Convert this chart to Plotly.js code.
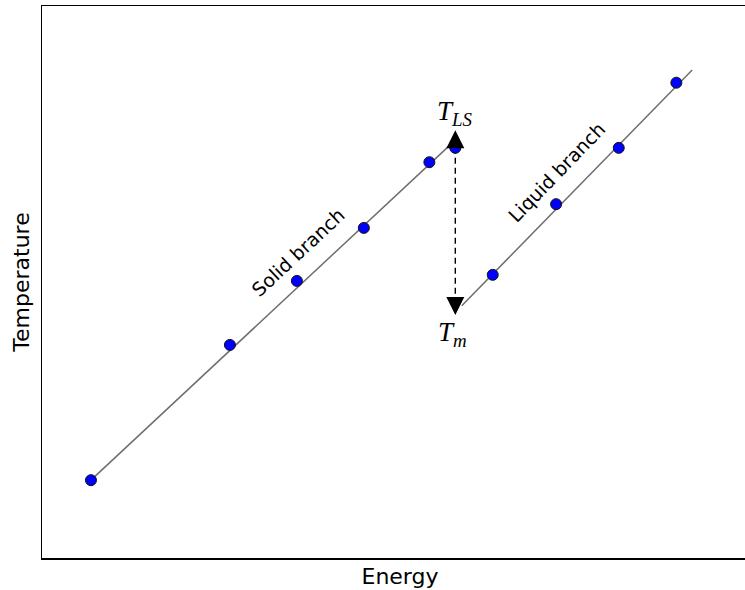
<!DOCTYPE html>
<html>
<head>
<meta charset="utf-8">
<script src="https://cdn.plot.ly/plotly-3.0.1.min.js"></script>
<style>html,body{margin:0;padding:0;overflow:hidden;background:#fff;width:745px;height:590px}</style>
</head>
<body>
<div id="chart" style="width:758px;height:590px"></div>
<script>
// Solid branch
const solidEnergy = [0.68, 2.61, 3.54, 4.47, 5.38, 5.74];
const solidTemp   = [1.41, 3.86, 5.02, 5.98, 7.17, 7.43];
const solidFitE   = [0.68, 5.74];
const solidFitT   = [1.41, 7.57];
// Liquid branch
const liquidEnergy = [6.26, 7.14, 8.01, 8.81];
const liquidTemp   = [5.13, 6.41, 7.43, 8.61];
const liquidFitE   = [5.83, 9.03];
const liquidFitT   = [4.57, 8.84];
// Superheating jump T_LS -> T_m
const jumpE = 5.74;
const T_LS = 7.75;
const T_m = 4.40;
const dashTop = 7.43, dashBottom = 4.71;

const lineColor = '#6e6e6e';
const traces = [
  {x: solidFitE, y: solidFitT, mode: 'lines', line: {color: lineColor, width: 1.5}, hoverinfo: 'skip'},
  {x: liquidFitE, y: liquidFitT, mode: 'lines', line: {color: lineColor, width: 1.5}, hoverinfo: 'skip'},
  {x: [jumpE, jumpE], y: [dashTop, dashBottom], mode: 'lines', line: {color: 'black', width: 1.4, dash: '6px,4px'}},
  {x: solidEnergy, y: solidTemp, mode: 'markers',
   marker: {color: '#0000ff', size: 11, line: {color: '#111', width: 1}}},
  {x: liquidEnergy, y: liquidTemp, mode: 'markers',
   marker: {color: '#0000ff', size: 11, line: {color: '#111', width: 1}}},
  {x: [jumpE], y: [T_LS], mode: 'markers', marker: {symbol: 'arrow-up', size: 18, color: 'black'}},
  {x: [jumpE], y: [T_m], mode: 'markers', marker: {symbol: 'arrow-down', size: 18, color: 'black'}}
];

const sansFont = {family: 'DejaVu Sans', size: 19, color: 'black'};
const mathFont = {family: 'Liberation Serif', size: 27, color: 'black'};
const titleFont = {family: 'DejaVu Sans', size: 22, color: 'black'};

const layout = {
  width: 758, height: 590,
  margin: {l: 42, r: 0, t: 6, b: 32},
  showlegend: false,
  paper_bgcolor: 'white', plot_bgcolor: 'white',
  xaxis: {range: [0, 9.944], showgrid: false, zeroline: false, showticklabels: false, ticks: '',
          showline: true, mirror: true, linecolor: 'black', linewidth: 1.5,
          title: {text: 'Energy', font: titleFont, standoff: 10}},
  yaxis: {range: [0, 10], showgrid: false, zeroline: false, showticklabels: false, ticks: '',
          showline: true, mirror: false, linecolor: 'black', linewidth: 1.5,
          title: {text: 'Temperature', font: titleFont, standoff: 5}},
  annotations: [
    {x: 3.56, y: 5.54, xref: 'x', yref: 'y', text: 'Solid branch', showarrow: false, textangle: -43, font: sansFont},
    {x: 7.15, y: 6.99, xref: 'x', yref: 'y', text: 'Liquid branch', showarrow: false, textangle: -46, font: sansFont},
    {x: jumpE, y: 8.06, xref: 'x', yref: 'y', text: '<i>T</i><sub><i>LS</i></sub>', showarrow: false, font: mathFont},
    {x: 5.70, y: 4.05, xref: 'x', yref: 'y', text: '<i>T</i><sub><i>m</i></sub>', showarrow: false, font: mathFont}
  ]
};

Plotly.newPlot('chart', traces, layout, {displayModeBar: false, staticPlot: true});
</script>
</body>
</html>
